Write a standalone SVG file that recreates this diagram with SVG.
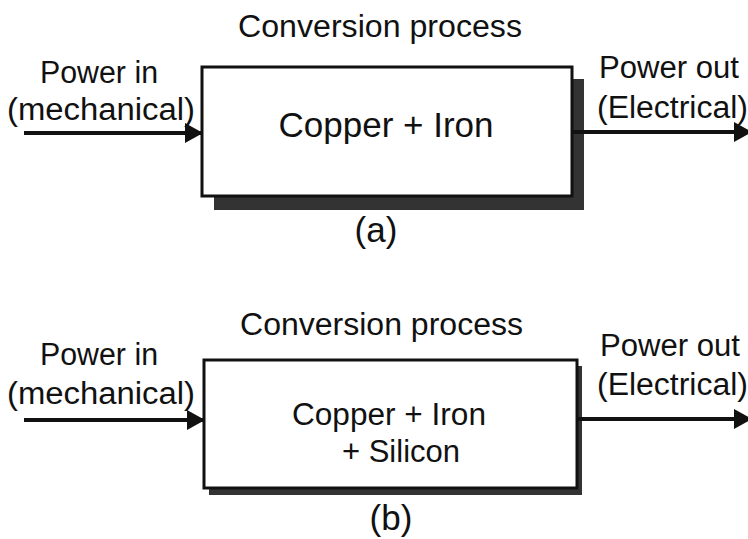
<svg xmlns="http://www.w3.org/2000/svg" width="748" height="539" viewBox="0 0 748 539">
  <defs>
    <style>
      text { font-family: "Liberation Sans", Arial, sans-serif; fill: #111; }
      .lbl { font-size: 31px; }
      .big { font-size: 35px; }
      .box { fill: #fff; stroke: #111; stroke-width: 3; }
      .shadow { fill: #333; }
      .wire { stroke: #111; stroke-width: 4; fill: none; marker-end: url(#arrow); }
    </style>
    <marker id="arrow" viewBox="0 0 18 20" refX="18" refY="10" markerWidth="18" markerHeight="20" markerUnits="userSpaceOnUse" orient="auto">
      <path d="M0,0 L18,10 L0,20 z" fill="#111"/>
    </marker>
  </defs>
  <rect width="748" height="539" fill="#fff"/>

  <!-- (a) -->
  <g id="title-a"><text class="lbl" x="238" y="37" textLength="284" lengthAdjust="spacingAndGlyphs">Conversion process</text></g>
  <g id="input-a">
    <text class="lbl" x="40" y="83" textLength="118" lengthAdjust="spacingAndGlyphs">Power in</text>
    <text class="lbl" x="7" y="120" textLength="188" lengthAdjust="spacingAndGlyphs">(mechanical)</text>
  </g>
  <g id="box-a">
    <rect class="shadow" x="214" y="79" width="370" height="131"/>
    <rect class="box" x="202" y="67" width="370" height="129"/>
    <text class="big" x="386" y="137" text-anchor="middle">Copper + Iron</text>
  </g>
  <g id="output-a">
    <text class="lbl" x="599" y="78" textLength="140" lengthAdjust="spacingAndGlyphs">Power out</text>
    <text class="lbl" x="597" y="118" textLength="151" lengthAdjust="spacingAndGlyphs">(Electrical)</text>
  </g>
  <g id="caption-a"><text class="big" x="376" y="242" text-anchor="middle">(a)</text></g>

  <!-- (b) -->
  <g id="title-b"><text class="lbl" x="240" y="335" textLength="283" lengthAdjust="spacingAndGlyphs">Conversion process</text></g>
  <g id="input-b">
    <text class="lbl" x="40" y="365" textLength="118" lengthAdjust="spacingAndGlyphs">Power in</text>
    <text class="lbl" x="7" y="404" textLength="188" lengthAdjust="spacingAndGlyphs">(mechanical)</text>
  </g>
  <g id="box-b">
    <rect class="shadow" x="209" y="366" width="373" height="129"/>
    <rect class="box" x="204" y="360" width="373" height="128"/>
    <text class="lbl" x="389" y="425" text-anchor="middle" textLength="194" lengthAdjust="spacingAndGlyphs">Copper + Iron</text>
    <text class="lbl" x="401" y="462" text-anchor="middle" textLength="118" lengthAdjust="spacingAndGlyphs">+ Silicon</text>
  </g>
  <g id="output-b">
    <text class="lbl" x="600" y="356" textLength="140" lengthAdjust="spacingAndGlyphs">Power out</text>
    <text class="lbl" x="597" y="395" textLength="151" lengthAdjust="spacingAndGlyphs">(Electrical)</text>
  </g>
  <g id="caption-b"><text class="big" x="391" y="530" text-anchor="middle">(b)</text></g>

  <g id="connectors">
    <line class="wire" x1="24" y1="133" x2="203" y2="133"/>
    <line class="wire" x1="572" y1="132" x2="752" y2="132"/>
    <line class="wire" x1="24" y1="420" x2="205" y2="420"/>
    <line class="wire" x1="577" y1="419" x2="752" y2="419"/>
  </g>
</svg>
